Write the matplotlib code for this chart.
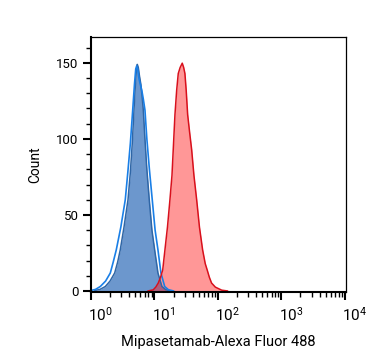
import numpy as np
import matplotlib
matplotlib.use("Agg")
import matplotlib.pyplot as plt
import matplotlib.transforms as mtransforms
from matplotlib.ticker import LogLocator, MultipleLocator

plt.rcParams["font.family"] = ["Roboto", "DejaVu Sans"]

# --- データ（画像から読み取り: log10(蛍光強度), カウント） ---
# 濃い青（塗りつぶし）
blue_fill_log = [0.06, 0.14, 0.225, 0.30, 0.373, 0.42, 0.461, 0.52, 0.583, 0.62,
                 0.65, 0.677, 0.70, 0.715, 0.729, 0.745, 0.765, 0.785, 0.805, 0.824,
                 0.85, 0.88, 0.918, 0.96, 1.003, 1.055, 1.118, 1.18, 1.26]
blue_fill_cnt = [0.3, 1, 2.9, 6.5, 11.8, 19, 27, 42, 60, 78,
                 97, 119, 136, 145, 149, 147, 141, 136, 128, 119,
                 100, 80, 60, 40, 27, 11.8, 2.9, 0.8, 0]
# 明るい青（線のみ）
blue_line_log = [0.0, 0.07, 0.146, 0.23, 0.304, 0.35, 0.398, 0.47, 0.54, 0.58,
                 0.62, 0.657, 0.685, 0.705, 0.72, 0.735, 0.75, 0.77, 0.80, 0.825,
                 0.85, 0.88, 0.92, 0.965, 1.01, 1.055, 1.102, 1.161, 1.22, 1.30]
blue_line_cnt = [0.3, 1, 2.9, 6.5, 11.8, 19, 27, 42, 60, 78,
                 97, 119, 136, 146, 148, 146, 141, 137, 132, 126,
                 119, 100, 80, 60, 40, 27, 11.8, 2.9, 0.8, 0]
# 赤（塗りつぶし）
red_log = [0.90, 0.98, 1.02, 1.06, 1.10, 1.13, 1.165, 1.205, 1.244, 1.276,
           1.296, 1.31, 1.323, 1.35, 1.375, 1.405, 1.438, 1.46, 1.48, 1.50,
           1.523, 1.555, 1.586, 1.622, 1.665, 1.709, 1.759, 1.80, 1.831, 1.865,
           1.90, 1.96, 2.06, 2.15]
red_cnt = [0, 0.7, 2.5, 5.2, 9.5, 13.8, 27, 42, 60, 76,
           93, 105, 116, 132, 143, 147, 149.8, 147, 143, 132,
           116, 104, 93, 76, 60, 42, 27, 18, 13.8, 9,
           5.2, 2.5, 0.5, 0]

fig = plt.figure(figsize=(3.67, 3.64), dpi=100)
ax = fig.add_axes([0.248, 0.1978, 0.695, 0.7005])

bx = 10 ** np.array(blue_fill_log)
ax.fill_between(bx, blue_fill_cnt, color="#1d5fb3", alpha=0.65, lw=0)
ax.plot(bx, blue_fill_cnt, color="#2f66a6", lw=1.1)
ax.plot(10 ** np.array(blue_line_log), blue_line_cnt, color="#1a7fe6", lw=1.2)

rx = 10 ** np.array(red_log)
ax.fill_between(rx, red_cnt, color="#ff1a1a", alpha=0.45, lw=0)
ax.plot(rx, red_cnt, color="#d8101c", lw=1.1)

ax.set_xscale("log")
ax.set_xlim(1, 10 ** 4.02)
ax.set_ylim(-0.7, 167)
ax.xaxis.set_major_locator(LogLocator(base=10, numticks=10))
ax.xaxis.set_minor_locator(LogLocator(base=10, subs=np.arange(2, 10), numticks=20))
ax.yaxis.set_major_locator(MultipleLocator(50))
ax.yaxis.set_minor_locator(MultipleLocator(10))

ax.tick_params(axis="both", which="major", length=6, width=1.5)
ax.tick_params(axis="both", which="minor", length=3.5, width=1.0)
ax.tick_params(axis="y", labelsize=9.5, pad=3)
ax.tick_params(axis="x", labelsize=11, pad=4)
for side in ["left", "bottom"]:
    ax.spines[side].set_linewidth(1.5)
for side in ["top", "right"]:
    ax.spines[side].set_linewidth(0.9)

fig.canvas.draw()
labels = ax.get_xticklabels()
for i, lab in enumerate(labels):
    if i == len(labels) - 1:
        lab.set_ha("right")
        dx = 2 / 72
    elif i == 0:
        lab.set_ha("left")
        dx = 3 / 72
    else:
        lab.set_ha("left")
        dx = -2 / 72
    lab.set_transform(lab.get_transform() + mtransforms.ScaledTranslation(dx, 0, fig.dpi_scale_trans))

ax.set_ylabel("Count", fontsize=10, labelpad=10)
ax.set_xlabel("Mipasetamab-Alexa Fluor 488", fontsize=10.5, labelpad=8)

plt.savefig("out.png", dpi=100)
